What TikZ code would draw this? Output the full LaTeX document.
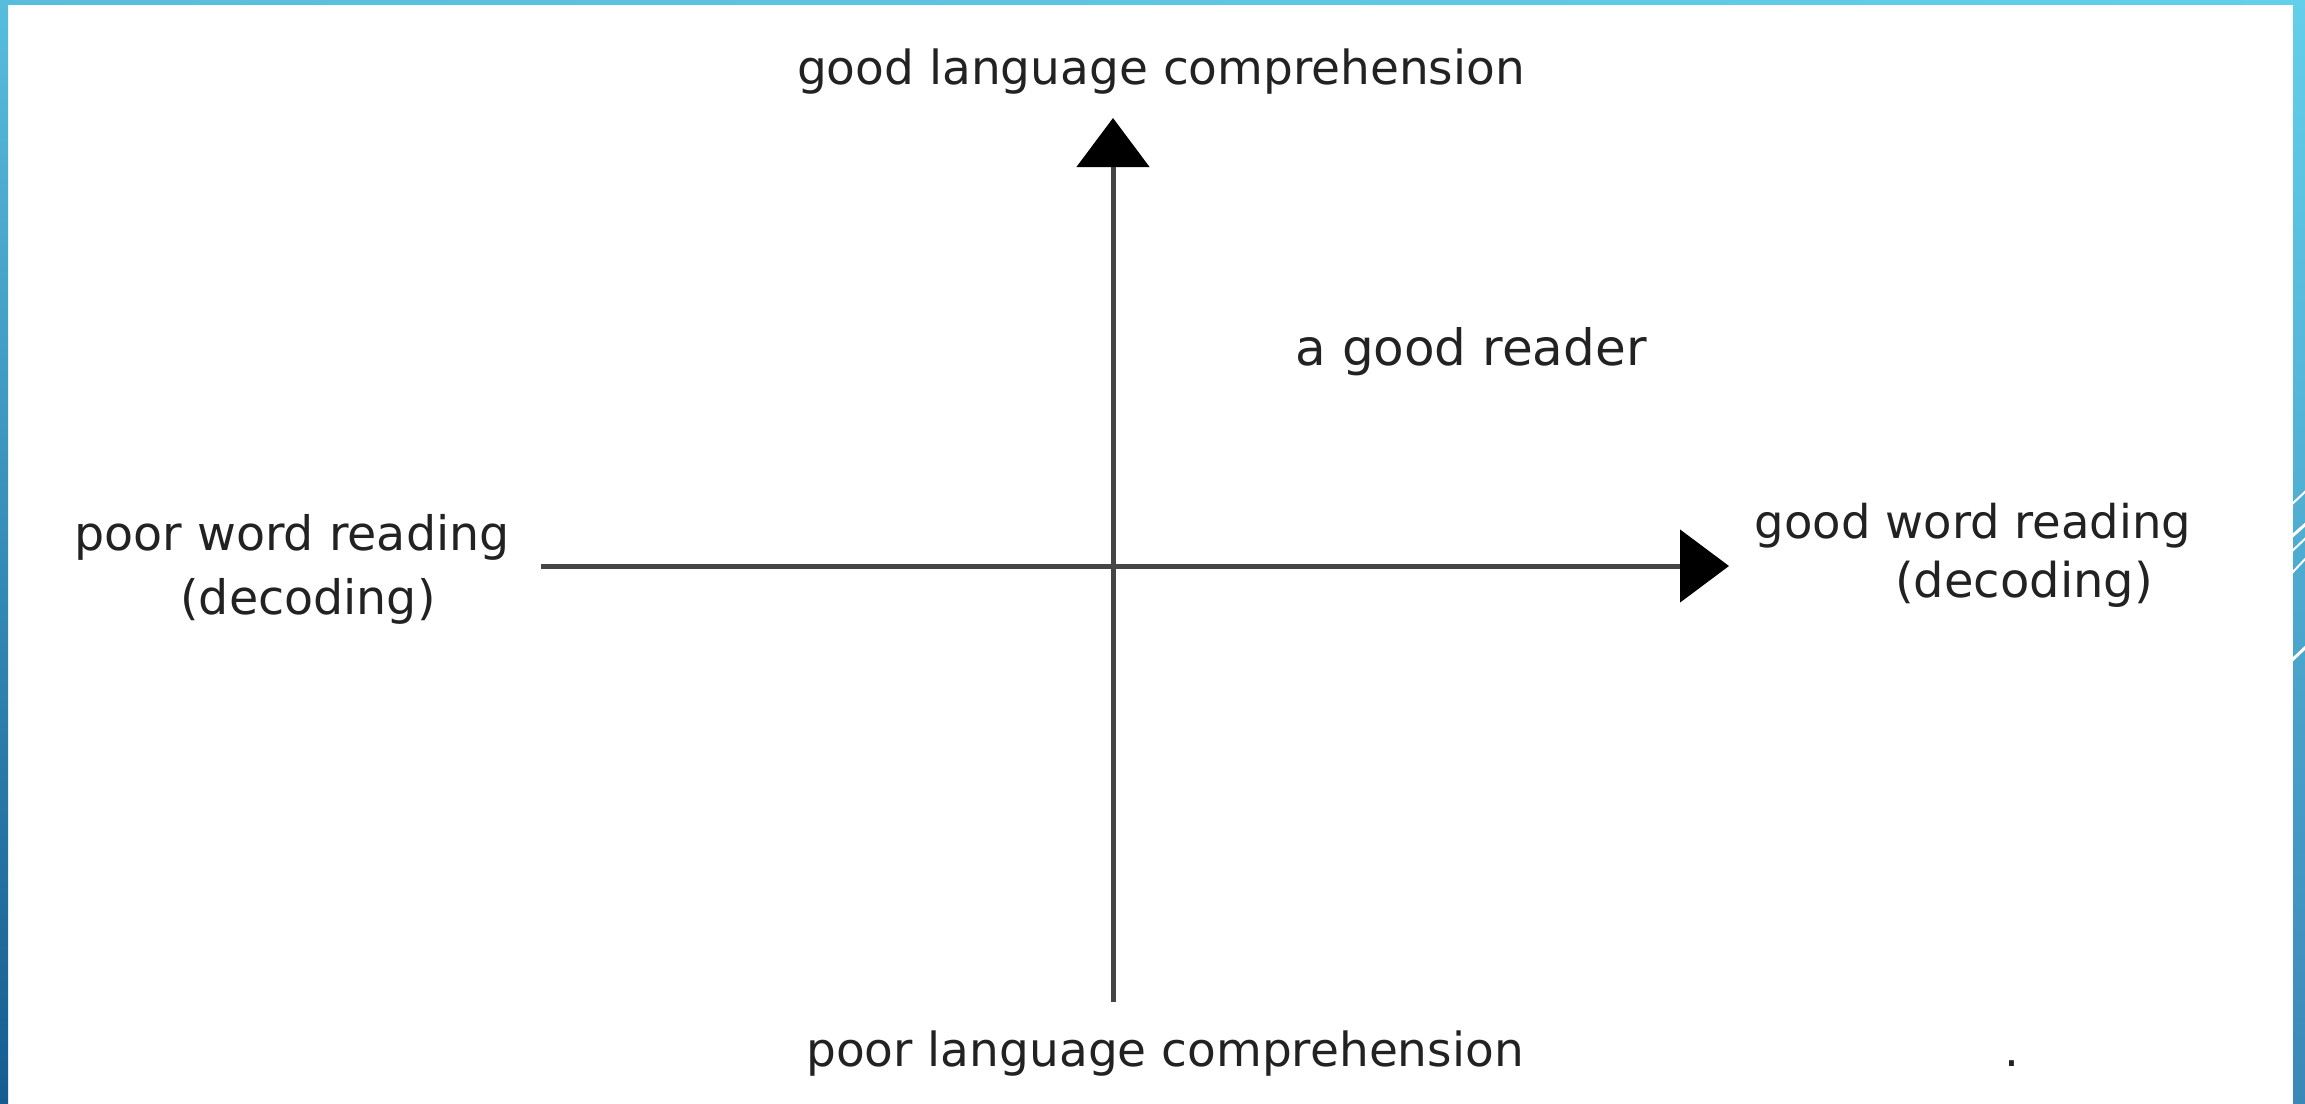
\documentclass[tikz,border=0pt]{standalone}
\usepackage{fontspec}
\setmainfont{DejaVu Sans}
\usetikzlibrary{arrows.meta}
\definecolor{txt}{HTML}{222222}
\definecolor{axisgray}{HTML}{454545}
\definecolor{frameA}{HTML}{58BDDC}
\definecolor{frameB}{HTML}{63CFEA}
\definecolor{frameC}{HTML}{155C92}
\definecolor{frameD}{HTML}{3A88B8}
\tikzset{
  lbl/.style={font=\fontsize{47}{56}\selectfont, text=txt, inner sep=0pt, anchor=base},
  axisline/.style={draw=axisgray, line width=5pt,
    -{Triangle[length=49pt,width=72pt,color=black,fill=black]}},
  plainline/.style={draw=axisgray, line width=5pt},
  stripe/.style={draw=white, line width=2pt}
}
\begin{document}
\begin{tikzpicture}[x=1pt,y=-1pt]
  \useasboundingbox (0,0) rectangle (2305,1103);
  \fill[white] (0,0) rectangle (2305,1103);
  % slide frame: bars on top, left and right
  \shade[left color=frameA, right color=frameB] (0,0) rectangle (2305,4);
  \shade[top color=frameA, bottom color=frameC] (0,0) rectangle (8,1103);
  \shade[top color=frameB, bottom color=frameD] (2293,0) rectangle (2305,1103);
  \begin{scope}
    \clip (2293,0) rectangle (2305,1103);
    \draw[stripe] (2290,506) -- (2308,489);
    \draw[stripe, line width=3pt] (2290,538) -- (2308,522);
    \draw[stripe] (2290,553) -- (2308,536);
    \draw[stripe] (2290,575) -- (2308,556);
    \draw[stripe, line width=3pt] (2290,662) -- (2308,645);
  \end{scope}

  % axes
  \coordinate (vbot) at (1113,1002);
  \coordinate (vtop) at (1113,118);
  \coordinate (hleft) at (541,566);
  \coordinate (hright) at (1729,566);
  \coordinate (origin) at (1113,566);
  \draw[plainline] (vbot) -- (origin);
  \draw[axisline] (origin) -- (vtop);
  \draw[plainline] (hleft) -- (origin);
  \draw[axisline] (origin) -- (hright);

  % labels
  \node[lbl] (goodlang) at (1161,84) {good language comprehension};
  \node[lbl, font=\fontsize{50}{60}\selectfont] (reader) at (1471,365) {a good reader};
  \node[lbl, font=\fontsize{47.5}{56}\selectfont] (poorword) at (292,550) {poor word reading};
  \node[lbl, font=\fontsize{47.5}{56}\selectfont] (poordec) at (308,614) {(decoding)};
  \node[lbl, font=\fontsize{46.5}{56}\selectfont] (goodword) at (1973,538) {good word reading};
  \node[lbl, font=\fontsize{48}{58}\selectfont] (gooddec) at (2024,597) {(decoding)};
  \node[lbl] (poorlang) at (1165,1066) {poor language comprehension};
  \node[lbl] (dot) at (2012,1066) {.};
\end{tikzpicture}
\end{document}
